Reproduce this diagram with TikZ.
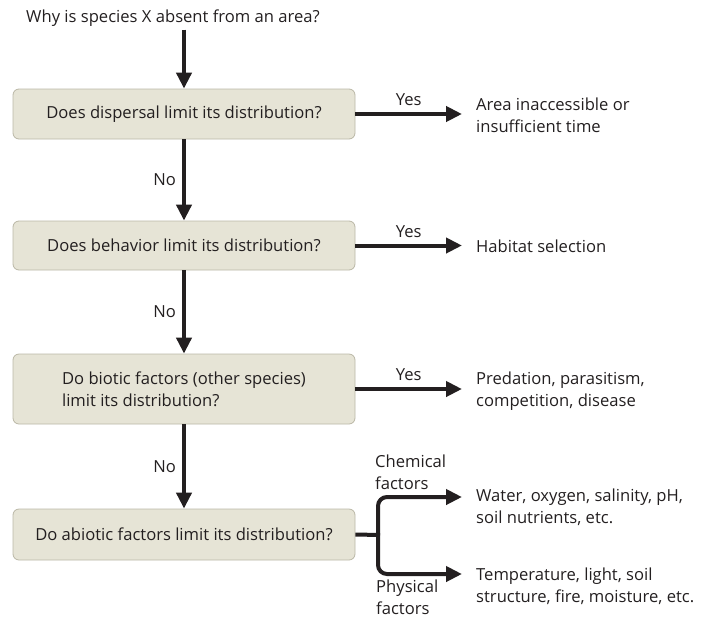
\documentclass[tikz,border=0pt]{standalone}
\usepackage{fontspec}
\setmainfont{Open Sans}
\usetikzlibrary{arrows.meta}
\definecolor{boxfill}{HTML}{E6E4D6}
\definecolor{boxline}{HTML}{BAB7A6}
\definecolor{ink}{HTML}{231F20}
\begin{document}
\begin{tikzpicture}[x=1pt,y=-1pt,
  every node/.style={text=ink,font=\fontsize{16.6}{22}\selectfont},
  qbox/.style={draw=boxline,fill=boxfill,line width=0.8pt,rounded corners=6pt,
    minimum width=342pt,align=center,inner sep=0pt},
  answer/.style={anchor=west,align=left,inner sep=0pt},
  flow/.style={draw=ink,line width=4pt,-{Triangle[length=16pt,width=15pt]}},
  stem/.style={draw=ink,line width=4pt},
  lbl/.style={inner sep=0pt}]
\useasboundingbox (0,0) rectangle (701,619);

% question chain
\node[lbl] (start) at (173,18) {Why is species X absent from an area?};
\node[qbox,minimum height=50pt] (q1) at (184,114) {Does dispersal limit its distribution?};
\node[qbox,minimum height=49pt] (q2) at (184,245.5) {Does behavior limit its distribution?};
\node[qbox,minimum height=70pt,align=left] (q3) at (184,389) {Do biotic factors (other species)\\limit its distribution?};
\node[qbox,minimum height=51pt] (q4) at (184,534.5) {Do abiotic factors limit its distribution?};

\draw[flow] (start.south -| q1.north) ++(0,3) -- (q1.north);
\draw[flow] (q1.south) -- node[lbl,left=6pt] {No} (q2.north);
\draw[flow] (q2.south) -- node[lbl,left=6pt] {No} (q3.north);
\draw[flow] (q3.south) -- node[lbl,left=6pt] {No} (q4.north);

% outcomes
\node[answer] (a1) at (476,115) {Area inaccessible or\\insufficient time};
\node[answer] (a2) at (476,246) {Habitat selection};
\node[answer] (a3) at (476,391) {Predation, parasitism,\\competition, disease};
\node[answer] (a4) at (476,507) {Water, oxygen, salinity, pH,\\soil nutrients, etc.};
\node[answer] (a5) at (476,586) {Temperature, light, soil\\structure, fire, moisture, etc.};

\draw[flow] (q1.east) -- node[lbl,above=6pt] {Yes} (q1.east -| 462,0);
\draw[flow] (q2.east) -- node[lbl,above=6pt] {Yes} (q2.east -| 462,0);
\draw[flow] (q3.east) -- node[lbl,above=6pt] {Yes} (q3.east -| 462,0);

% abiotic split
\coordinate (split) at (378,535);
\coordinate (chem) at (462,497);
\coordinate (phys) at (462,574);
\draw[stem] (q4.east) -- ([xshift=2pt]split);
\draw[flow,rounded corners=9pt] (split) |- (chem);
\draw[flow,rounded corners=9pt] (split) |- (phys);
\node[answer] (chemlbl) at (375,472) {Chemical\\factors};
\node[answer] (physlbl) at (376,597) {Physical\\factors};
\end{tikzpicture}
\end{document}
